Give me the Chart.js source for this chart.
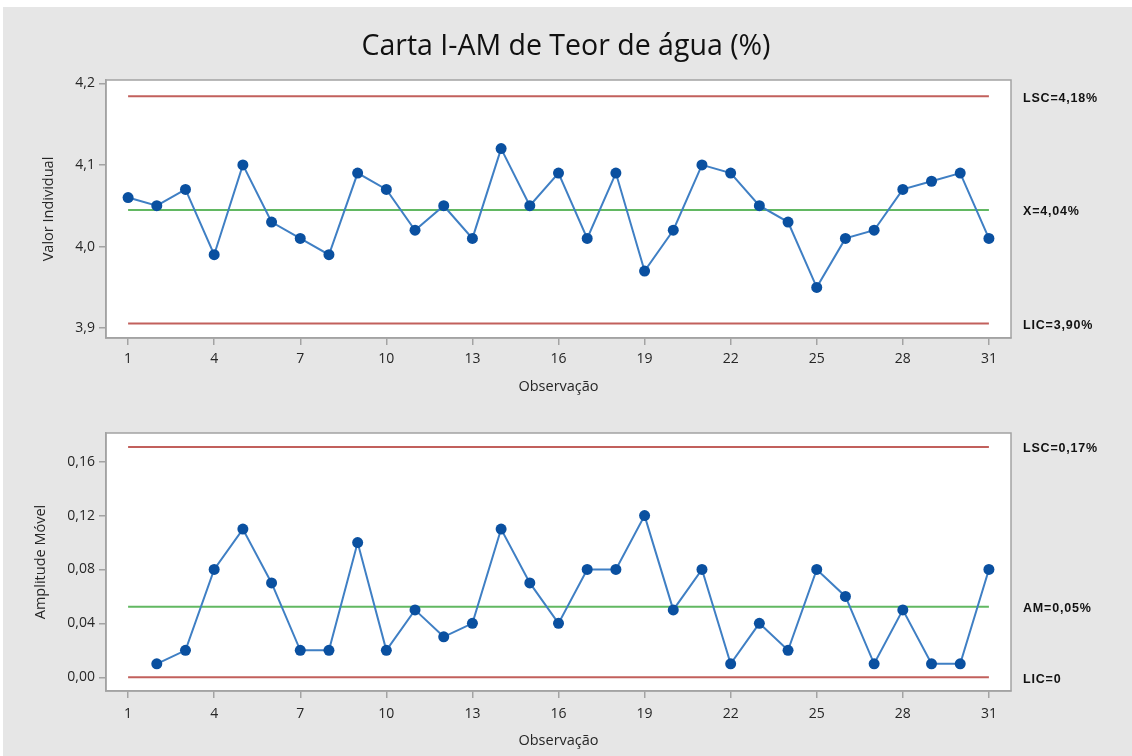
<!DOCTYPE html>
<html>
<head>
<meta charset="utf-8">
<script src="https://cdn.jsdelivr.net/npm/chart.js@4.4.1/dist/chart.umd.min.js"></script>
<style>
html,body{margin:0;padding:0;background:#ffffff;width:1132px;height:756px;overflow:hidden}
#bg{position:absolute;left:3px;top:7px;width:1129px;height:749px;background:#e6e6e6}
#c1{position:absolute;left:0;top:0}
#c2{position:absolute;left:0;top:400px}
</style>
</head>
<body>
<div id="bg"></div>
<canvas id="c1" width="1132" height="400"></canvas>
<canvas id="c2" width="1132" height="356"></canvas>
<script>
// ---- data ----
const chartTitle = 'Carta I-AM de Teor de água (%)';
const observations = [1,2,3,4,5,6,7,8,9,10,11,12,13,14,15,16,17,18,19,20,21,22,23,24,25,26,27,28,29,30,31];
const individualValues = [4.06,4.05,4.07,3.99,4.10,4.03,4.01,3.99,4.09,4.07,4.02,4.05,4.01,4.12,4.05,4.09,4.01,4.09,3.97,4.02,4.10,4.09,4.05,4.03,3.95,4.01,4.02,4.07,4.08,4.09,4.01];
const movingRanges = [null,0.01,0.02,0.08,0.11,0.07,0.02,0.02,0.10,0.02,0.05,0.03,0.04,0.11,0.07,0.04,0.08,0.08,0.12,0.05,0.08,0.01,0.04,0.02,0.08,0.06,0.01,0.05,0.01,0.01,0.08];
const xTicks = [1,4,7,10,13,16,19,22,25,28,31];
const yTicksIndividual = [3.9,4.0,4.1,4.2];
const yTicksMR = [0,0.04,0.08,0.12,0.16];
const individualLimitValues = [4.184,4.0448,3.9057];
const individualLimitLabels = ['LSC=4,18%','X=4,04%','LIC=3,90%'];
const mrLimitValues = [0.171,0.0523,0];
const mrLimitLabels = ['LSC=0,17%','AM=0,05%','LIC=0'];
const limitKinds = ['upper','center','lower'];

// ---- styles ----
const C_LINE = '#3f7fc4';
const C_POINT = '#0a50a0';
const C_RED = '#c2605c';
const C_GREEN = '#62b862';
const C_AXIS = '#a3a3a3';
const C_TEXT = '#262626';
const FONT = "'Open Sans', 'Noto Sans', sans-serif";

function fmt(v, d){ return v.toFixed(d).replace('.', ','); }

const plotFrame = {
  id: 'plotFrame',
  beforeDraw(chart){
    const a = chart.chartArea, ctx = chart.ctx;
    ctx.save();
    ctx.fillStyle = '#ffffff';
    ctx.fillRect(a.left, a.top, a.right - a.left, a.bottom - a.top);
    ctx.restore();
  },
  afterDraw(chart){
    const a = chart.chartArea, ctx = chart.ctx;
    ctx.save();
    ctx.strokeStyle = C_AXIS;
    ctx.lineWidth = 1.5;
    ctx.strokeRect(a.left, a.top, a.right - a.left, a.bottom - a.top);
    const vals = chart.options.plugins.limitLabels.values;
    const labs = chart.options.plugins.limitLabels.labels;
    ctx.fillStyle = '#111';
    ctx.font = "bold 12.5px 'Liberation Sans', Arial, sans-serif";
    try { ctx.letterSpacing = '0.8px'; } catch (e) {}
    ctx.textAlign = 'left';
    ctx.textBaseline = 'middle';
    const ys = chart.scales.y;
    vals.forEach((v, i) => {
      ctx.fillText(labs[i], a.right + 12, ys.getPixelForValue(v) + 2);
    });
    ctx.restore();
  }
};

function limitDataset(value, kind){
  return {
    data: [{x: observations[0], y: value}, {x: observations[observations.length - 1], y: value}],
    borderColor: kind === 'center' ? C_GREEN : C_RED,
    borderWidth: 2,
    pointRadius: 0,
    pointHoverRadius: 0,
    tension: 0
  };
}

function makeChart(canvasId, opts){
  const seriesData = observations.map((o, i) => ({x: o, y: opts.values[i]})).filter(p => p.y !== null);
  const datasets = [{
    data: seriesData,
    borderColor: C_LINE,
    borderWidth: 2,
    pointRadius: 5.5,
    pointBackgroundColor: C_POINT,
    pointBorderColor: C_POINT,
    pointBorderWidth: 0,
    tension: 0
  }];
  opts.limits.forEach((v, i) => datasets.push(limitDataset(v, limitKinds[i])));
  return new Chart(document.getElementById(canvasId), {
    type: 'line',
    data: { datasets },
    plugins: [plotFrame],
    options: {
      responsive: false,
      animation: false,
      devicePixelRatio: 1,
      layout: { padding: { top: opts.padTop, right: 0, bottom: 0, left: 0 } },
      plugins: {
        legend: { display: false },
        tooltip: { enabled: false },
        title: opts.title ? {
          display: true, text: opts.title, color: '#111',
          font: { family: FONT, size: 28.5, weight: 'normal', lineHeight: 1 },
          padding: { top: 33, bottom: 18.5 }
        } : { display: false },
        limitLabels: { values: opts.limits, labels: opts.limitLabels }
      },
      scales: {
        x: {
          type: 'linear',
          min: 0.23, max: 31.77,
          afterBuildTicks: s => { s.ticks = xTicks.map(v => ({value: v})); },
          afterFit: s => { s.height = opts.xHeight; },
          ticks: { color: C_TEXT, font: { family: FONT, size: 14 }, padding: opts.xTickPad, callback: v => String(v) },
          grid: { display: true, drawOnChartArea: false, drawTicks: true, tickLength: 7, color: C_AXIS, lineWidth: 1.5 },
          border: { display: true, color: C_AXIS, width: 1.5 },
          title: { display: true, text: 'Observação', color: C_TEXT, font: { family: FONT, size: 14.5 }, padding: { top: 0, bottom: opts.xTitlePad } }
        },
        y: {
          type: 'linear',
          min: opts.yMin, max: opts.yMax,
          afterBuildTicks: s => { s.ticks = opts.yTicks.map(v => ({value: v})); },
          afterFit: s => { s.width = 106; },
          ticks: { color: C_TEXT, font: { family: FONT, size: 14 }, padding: 4, callback: v => fmt(v, opts.dec) },
          grid: { display: true, drawOnChartArea: false, drawTicks: true, tickLength: 7, color: C_AXIS, lineWidth: 1.5 },
          border: { display: true, color: C_AXIS, width: 1.5 },
          title: { display: true, text: opts.yTitle, color: C_TEXT, font: { family: FONT, size: 14.5 }, padding: { top: opts.yTitlePad, bottom: 0 } }
        },
        yRight: {
          type: 'linear',
          position: 'right',
          min: opts.yMin, max: opts.yMax,
          afterFit: s => { s.width = 121; },
          ticks: { display: false },
          grid: { display: false, drawTicks: false },
          border: { display: false },
          title: { display: false }
        }
      }
    }
  });
}

makeChart('c1', {
  title: chartTitle,
  values: individualValues,
  limits: individualLimitValues,
  limitLabels: individualLimitLabels,
  yTicks: yTicksIndividual, dec: 1,
  yMin: 3.888, yMax: 4.204,
  yTitle: 'Valor Individual', yTitlePad: 40,
  padTop: 0, xHeight: 62, xTickPad: 5.5, xTitlePad: 4.5
});

makeChart('c2', {
  title: null,
  values: movingRanges,
  limits: mrLimitValues,
  limitLabels: mrLimitLabels,
  yTicks: yTicksMR, dec: 2,
  yMin: -0.0102, yMax: 0.1813,
  yTitle: 'Amplitude Móvel', yTitlePad: 32,
  padTop: 33, xHeight: 65, xTickPad: 7.5, xTitlePad: 6.5
});
</script>
</body>
</html>
